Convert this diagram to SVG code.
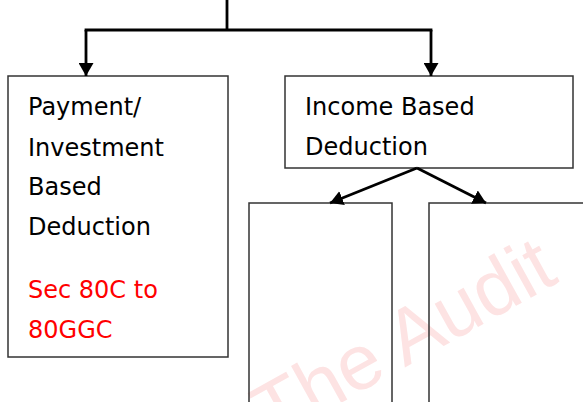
<svg xmlns="http://www.w3.org/2000/svg" width="583" height="402" viewBox="0 0 583 402">
  <style>
    .box { fill: none; stroke: #333333; stroke-width: 1.5; }
    .edge { fill: none; stroke: #000000; stroke-width: 2.8; }
    .label { font-family: "DejaVu Sans", "Liberation Sans", sans-serif; font-size: 24px; fill: #000000; }
    .red { fill: #ff0000; }
    .mark { font-family: "Liberation Sans", Arial, sans-serif; font-size: 78px; fill: #fde3e3; }
  </style>
  <defs>
    <marker id="head" viewBox="0 0 13 15" refX="13" refY="7.5" markerWidth="13" markerHeight="15" markerUnits="userSpaceOnUse" orient="auto">
      <path d="M0,0 L13,7.5 L0,15 Z" fill="#000000"/>
    </marker>
  </defs>

  <rect width="583" height="402" fill="#ffffff"/>

  <!-- background watermark -->
  <text class="mark" transform="translate(272,441) rotate(-29)">The Audit</text>

  <g id="node-payment">
    <rect class="box" x="8" y="76" width="220" height="281"/>
    <text class="label" x="28" y="115">Payment/</text>
    <text class="label" x="28" y="156">Investment</text>
    <text class="label" x="28" y="195">Based</text>
    <text class="label" x="28" y="235">Deduction</text>
    <text class="label red" x="28" y="298">Sec 80C to</text>
    <text class="label red" x="28" y="338">80GGC</text>
  </g>

  <g id="node-income">
    <rect class="box" x="285" y="76" width="288" height="92"/>
    <text class="label" x="305" y="115">Income Based</text>
    <text class="label" x="305" y="155">Deduction</text>
  </g>

  <g id="node-child-left">
    <rect class="box" x="249" y="203" width="143" height="210"/>
  </g>

  <g id="node-child-right">
    <rect class="box" x="429" y="203" width="170" height="210"/>
  </g>

  <g id="connectors">
    <path class="edge" d="M227,0 V30 M84.6,30 H432.4"/>
    <path class="edge" d="M86,30 V76" marker-end="url(#head)"/>
    <path class="edge" d="M431,30 V76" marker-end="url(#head)"/>
    <path class="edge" d="M417,168 L330,203" marker-end="url(#head)"/>
    <path class="edge" d="M417,168 L486,203" marker-end="url(#head)"/>
  </g>
</svg>
